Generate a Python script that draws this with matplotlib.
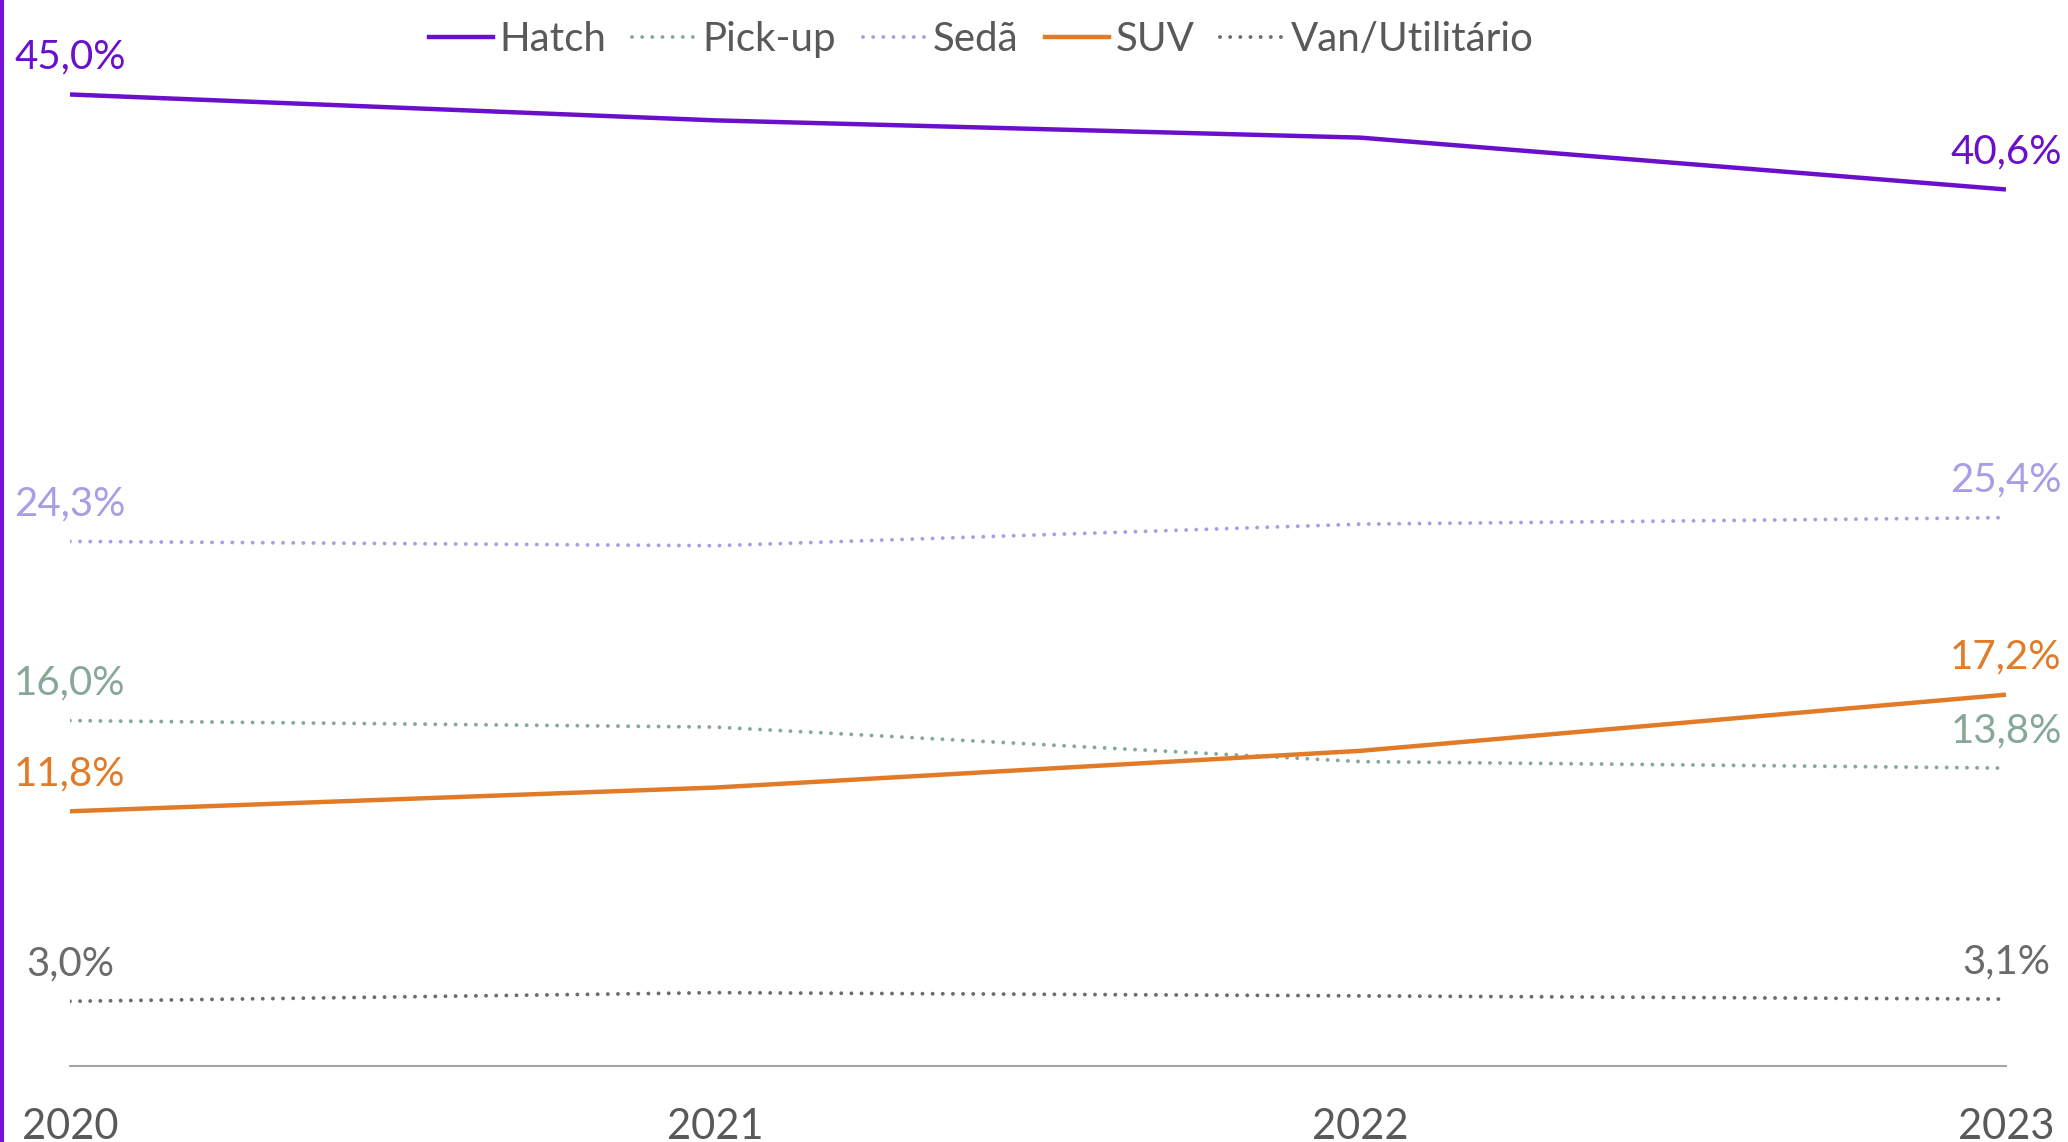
import matplotlib.pyplot as plt
from matplotlib.lines import Line2D

years = ["2020", "2021", "2022", "2023"]
series_names = ["Hatch", "Pick-up", "Sedã", "SUV", "Van/Utilitário"]
hatch = [45.0, 43.8, 43.0, 40.6]
pickup = [16.0, 15.7, 14.1, 13.8]
seda = [24.3, 24.1, 25.1, 25.4]
suv = [11.8, 12.9, 14.6, 17.2]
van = [3.0, 3.4, 3.25, 3.1]

colors = ["#6a10cc", "#86a897", "#a99ee6", "#e27b27", "#6b6b6b"]
styles = ["solid", "dotted", "dotted", "solid", "dotted"]
values = [hatch, pickup, seda, suv, van]

plt.rcParams['font.family'] = ['Lato', 'DejaVu Sans']

fig = plt.figure(figsize=(20.68, 11.42), dpi=100)
ax = fig.add_axes([0.0338, 0.0665, 0.9362, 0.9075])

x = list(range(len(years)))
dot = (0, (0.01, 2.6))

for name, vals, c, st in zip(series_names, values, colors, styles):
    if st == "solid":
        ax.plot(x, vals, color=c, lw=3.2, solid_capstyle="butt")
    else:
        ax.plot(x, vals, color=c, lw=2.8, linestyle=dot, dash_capstyle="round")
    # value labels at first and last point
    for i in (0, len(x) - 1):
        ax.annotate(f"{vals[i]:.1f}%".replace(".", ","), (x[i], vals[i]),
                    xytext=(0, 27), textcoords="offset points",
                    ha="center", va="center", fontsize=29, color=c)

ax.set_xlim(0, 3)
ax.set_ylim(0, 48)
ax.set_xticks(x)
ax.set_xticklabels(years, fontsize=30, color="#595959")
ax.tick_params(axis="x", length=0, pad=30)
ax.set_yticks([])
for s in ["top", "right", "left"]:
    ax.spines[s].set_visible(False)
ax.spines["bottom"].set_color("#a6a6a6")
ax.spines["bottom"].set_linewidth(1.5)

# legend
handles = []
for name, c, st in zip(series_names, colors, styles):
    if st == "solid":
        handles.append(Line2D([], [], color=c, lw=3.2))
    else:
        handles.append(Line2D([], [], color=c, lw=2.8, linestyle=dot, dash_capstyle="round"))
fig.legend(handles, series_names, loc="center", bbox_to_anchor=(0.4745, 0.965),
           ncol=5, frameon=False, fontsize=29, labelcolor="#595959",
           handlelength=1.6, handletextpad=0.15, columnspacing=0.65)

# purple bar on left edge
fig.add_artist(Line2D([0.001, 0.001], [0, 1], transform=fig.transFigure,
                      color="#7414d8", lw=3))

fig.savefig("out.png", dpi=100)
